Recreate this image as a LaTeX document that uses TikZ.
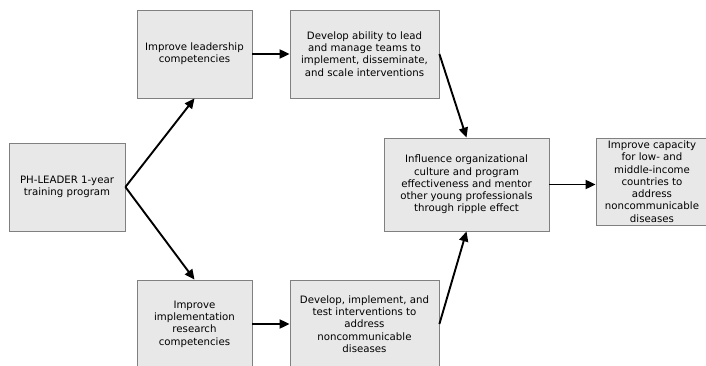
\documentclass[tikz,border=0pt]{standalone}
\usepackage{fontspec}
\setmainfont{DejaVu Sans}
\usetikzlibrary{arrows.meta}
\tikzset{
  box/.style={draw=black!50, fill=black!9, line width=0.8pt, align=center, inner sep=1pt,
    font=\fontsize{10.2}{12.3}\selectfont, anchor=center},
  arr/.style={line width=1.9pt, -{Triangle[length=10pt,width=9pt]}}
}
\newcommand{\boxat}[6]{% name, x1,y1,x2,y2, text
  \node[box, minimum width={#4-#2}, minimum height={#5-#3}] (#1) at ({(#2+#4)/2},{(#3+#5)/2}) {#6};}
\begin{document}
\begin{tikzpicture}[x=1pt,y=-1pt]
\useasboundingbox (0,0) rectangle (706,366);
\fill[white] (0,0) rectangle (706,366);
\boxat{ph}{9}{143}{125}{231}{PH-LEADER 1-year\\training program}
\boxat{lead}{137}{10}{252}{98}{Improve leadership\\competencies}
\boxat{dev1}{290}{10}{439}{98}{Develop ability to lead\\and manage teams to\\implement, disseminate,\\and scale interventions}
\boxat{impl}{137}{280}{252}{368}{Improve\\implementation\\research\\competencies}
\boxat{dev2}{290}{280}{439}{368}{Develop, implement, and\\test interventions to\\address\\noncommunicable\\diseases}
\boxat{infl}{384}{138}{549}{231}{Influence organizational\\culture and program\\effectiveness and mentor\\other young professionals\\through ripple effect}
\boxat{cap}{596}{138}{708}{225}{Improve capacity\\for low- and\\middle-income\\countries to\\address\\noncommunicable\\diseases}
\draw[arr] (ph.east) -- (lead.south);
\draw[arr] (ph.east) -- (impl.north);
\draw[arr] (lead.east) -- (dev1.west);
\draw[arr] (impl.east) -- (dev2.west);
\draw[arr] (dev1.east) -- (infl.north);
\draw[arr] (dev2.east) -- (infl.south);
\draw[arr] (infl.east) -- (infl.east -| cap.west);
\end{tikzpicture}
\end{document}
